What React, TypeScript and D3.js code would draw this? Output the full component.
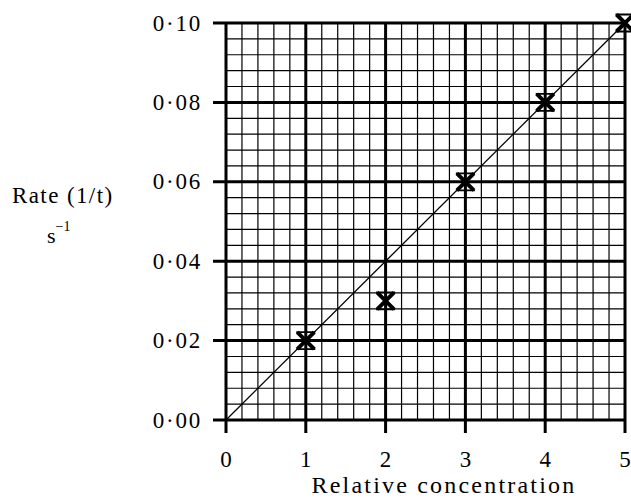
import React from 'react';
import * as d3 from 'd3';

const concentration = [1, 2, 3, 4, 5];
const rate = [0.02, 0.03, 0.06, 0.08, 0.1];
const fitLine = [
  { x: 0, y: 0 },
  { x: 5, y: 0.1 },
];
const xMajorTicks = [0, 1, 2, 3, 4, 5];
const yMajorTicks = [0, 0.02, 0.04, 0.06, 0.08, 0.1];

const W = 631;
const H = 498;
const FONT = '"Liberation Serif", "DejaVu Serif", serif';

const App = () => {
  const x = d3.scaleLinear().domain([0, 5]).range([226, 625]);
  const y = d3.scaleLinear().domain([0, 0.1]).range([420, 23]);

  // minor grid: 5 divisions per major square
  const xMinor = d3.range(0, 26).map(i => i * 0.2);
  const yMinor = d3.range(0, 26).map(i => i * 0.004);

  const fmt = (v: number) => d3.format('.2f')(v).replace('.', '·');
  const line = d3.line<{ x: number; y: number }>()
    .x(d => x(d.x))
    .y(d => y(d.y));

  const marker = (cx: number, cy: number, i: number) => {
    const s = 8.5;
    return (
      <g key={i} transform={`translate(${cx},${cy})`}>
        <path
          d={`M${-s},${-s}L${s},${s}M${s},${-s}L${-s},${s}`}
          stroke="#000"
          strokeWidth={4}
          strokeLinecap="butt"
        />
        <path d={`M${-s - 1},${-s}H${s + 1}M${-s - 1},${s}H${s + 1}`} stroke="#000" strokeWidth={1.8} />
      </g>
    );
  };

  return (
    <div style={{ position: 'absolute', left: 0, top: 0 }}>
      <svg width={W} height={H} style={{ display: 'block', background: '#fff' }}>
        {/* minor grid */}
        <g stroke="#000" strokeWidth={1.2}>
          {xMinor.map((v, i) => (
            <line key={'xm' + i} x1={x(v)} x2={x(v)} y1={y(0.1)} y2={y(0)} />
          ))}
          {yMinor.map((v, i) => (
            <line key={'ym' + i} x1={x(0)} x2={x(5)} y1={y(v)} y2={y(v)} />
          ))}
        </g>
        {/* major grid, extended as ticks */}
        <g stroke="#000" strokeWidth={3}>
          {xMajorTicks.map((v, i) => (
            <line key={'xM' + i} x1={x(v)} x2={x(v)} y1={y(0.1) - 1} y2={y(0) + 13} />
          ))}
          {yMajorTicks.map((v, i) => (
            <line key={'yM' + i} x1={x(0) - 13} x2={x(5) + 1} y1={y(v)} y2={y(v)} />
          ))}
        </g>
        {/* fitted line */}
        <path d={line(fitLine) || ''} fill="none" stroke="#000" strokeWidth={1.3} />
        {/* data points */}
        {concentration.map((c, i) => marker(x(c), y(rate[i]), i))}
        {/* labels */}
        <g fontFamily={FONT} fontSize={23} fill="#000">
          {yMajorTicks.map((v, i) => (
            <text key={'yl' + i} x={x(0) - 24} y={y(v)} dy="0.33em" textAnchor="end" letterSpacing={1.8}>
              {fmt(v)}
            </text>
          ))}
          {xMajorTicks.map((v, i) => (
            <text key={'xl' + i} x={x(v)} y={467} textAnchor="middle">
              {v}
            </text>
          ))}
          <text x={444} y={493} textAnchor="middle" fontSize={24} letterSpacing={2.2}>
            Relative concentration
          </text>
          <text x={12} y={203} letterSpacing={1.4}>
            Rate (1/t)
          </text>
          <text x={47} y={243} fontSize={22}>
            s
            <tspan dy={-12} fontSize={14}>
              −1
            </tspan>
          </text>
        </g>
      </svg>
    </div>
  );
};

export default App;
